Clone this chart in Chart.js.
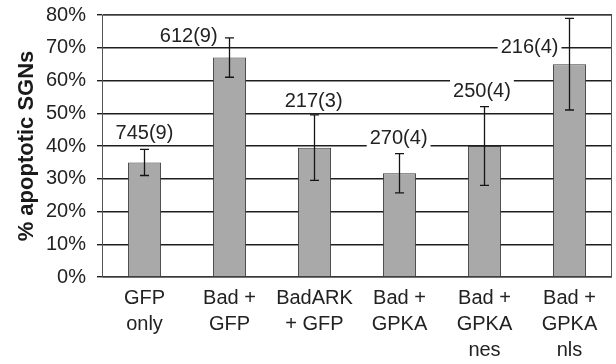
<!DOCTYPE html>
<html>
<head>
<meta charset="utf-8">
<script src="https://cdn.jsdelivr.net/npm/chart.js@4"></script>
<style>
  html, body { margin: 0; padding: 0; background: #fff; }
  #wrap { width: 616px; height: 364px; }
</style>
</head>
<body>
<div id="wrap"><canvas id="c" width="616" height="364"></canvas></div>
<script>
const categories = [['GFP', 'only'], ['Bad +', 'GFP'], ['BadARK', '+ GFP'], ['Bad +', 'GPKA'], ['Bad +', 'GPKA', 'nes'], ['Bad +', 'GPKA', 'nls']];
const values = [35, 67, 39.5, 31.7, 40, 65];
const errors = [4, 6, 10, 6, 12, 14];
const countLabels = ['745(9)', '612(9)', '217(3)', '270(4)', '250(4)', '216(4)'];
const countLabelX = [0.0, 0.52, 1.99, 2.99, 3.97, 4.53];
const countLabelY = [44, 73.7, 54, 42.7, 57.1, 70.4];
const yTicks = [0, 10, 20, 30, 40, 50, 60, 70, 80];

const FONT = '"Liberation Sans", Arial, Helvetica, sans-serif';

const framePlugin = {
  id: 'frame',
  beforeDatasetsDraw(chart) {
    const {ctx, chartArea: a} = chart;
    ctx.save();
    ctx.strokeStyle = '#555';
    ctx.lineWidth = 1;
    ctx.strokeRect(a.left + 0.5, a.top, a.right - a.left - 1, a.bottom - a.top);
    ctx.restore();
  }
};

const errorBarPlugin = {
  id: 'errorBars',
  afterDatasetsDraw(chart) {
    const {ctx} = chart;
    const meta = chart.getDatasetMeta(0);
    const ys = chart.scales.y;
    ctx.save();
    ctx.strokeStyle = '#151515';
    ctx.lineWidth = 1.3;
    meta.data.forEach((bar, i) => {
      const x = bar.x;
      const yTop = ys.getPixelForValue(values[i] + errors[i]);
      const yBot = ys.getPixelForValue(values[i] - errors[i]);
      ctx.beginPath();
      ctx.moveTo(x, yTop); ctx.lineTo(x, yBot);
      ctx.moveTo(x - 4.5, yTop); ctx.lineTo(x + 4.5, yTop);
      ctx.moveTo(x - 4.5, yBot); ctx.lineTo(x + 4.5, yBot);
      ctx.stroke();
    });
    ctx.restore();
  }
};

const countLabelPlugin = {
  id: 'countLabels',
  afterDatasetsDraw(chart) {
    const {ctx} = chart;
    const xs = chart.scales.x, ys = chart.scales.y;
    ctx.save();
    ctx.font = '20px ' + FONT;
    ctx.textAlign = 'center';
    ctx.textBaseline = 'middle';
    countLabels.forEach((t, i) => {
      const px = xs.getPixelForValue(countLabelX[i]);
      const py = ys.getPixelForValue(countLabelY[i]);
      const w = ctx.measureText(t).width;
      ctx.fillStyle = '#fff';
      ctx.fillRect(px - w / 2 - 3, py - 10, w + 6, 20);
      ctx.fillStyle = '#222';
      ctx.fillText(t, px, py + 1);
    });
    ctx.restore();
  }
};

new Chart(document.getElementById('c'), {
  type: 'bar',
  data: {
    labels: categories,
    datasets: [{
      data: values,
      backgroundColor: '#a9a9a9',
      borderColor: '#3a3a3a',
      borderWidth: 1,
      barPercentage: 0.39,
      categoryPercentage: 1.0
    }]
  },
  options: {
    responsive: false,
    animation: false,
    devicePixelRatio: 1,
    layout: { padding: { top: 15, right: 4, bottom: 0, left: 0 } },
    plugins: {
      legend: { display: false },
      tooltip: { enabled: false }
    },
    scales: {
      x: {
        offset: true,
        grid: { display: false, drawTicks: false },
        border: { display: false },
        ticks: {
          color: '#222',
          padding: 8,
          maxRotation: 0,
          autoSkip: false,
          font: { family: FONT, size: 20, lineHeight: 1.3 }
        },
        afterFit(scale) { scale.height = 87; }
      },
      y: {
        min: 0,
        max: 80,
        afterBuildTicks(scale) { scale.ticks = yTicks.map(v => ({ value: v })); },
        grid: { color: '#1e1e1e', lineWidth: 1.4, tickLength: 5, drawTicks: true },
        border: { display: true, color: '#555', width: 1 },
        ticks: {
          color: '#222',
          padding: 11,
          font: { family: FONT, size: 20 },
          callback: (v) => v + '%'
        },
        title: {
          display: true,
          text: '% apoptotic SGNs',
          color: '#1a1a1a',
          padding: { top: 14, bottom: 0 },
          font: { family: FONT, size: 22, weight: 'bold' }
        },
        afterFit(scale) {
          scale.width = 102;
          scale.paddingTop = 8;
          scale.paddingBottom = 0;
        }
      }
    }
  },
  plugins: [framePlugin, errorBarPlugin, countLabelPlugin]
});
</script>
</body>
</html>
